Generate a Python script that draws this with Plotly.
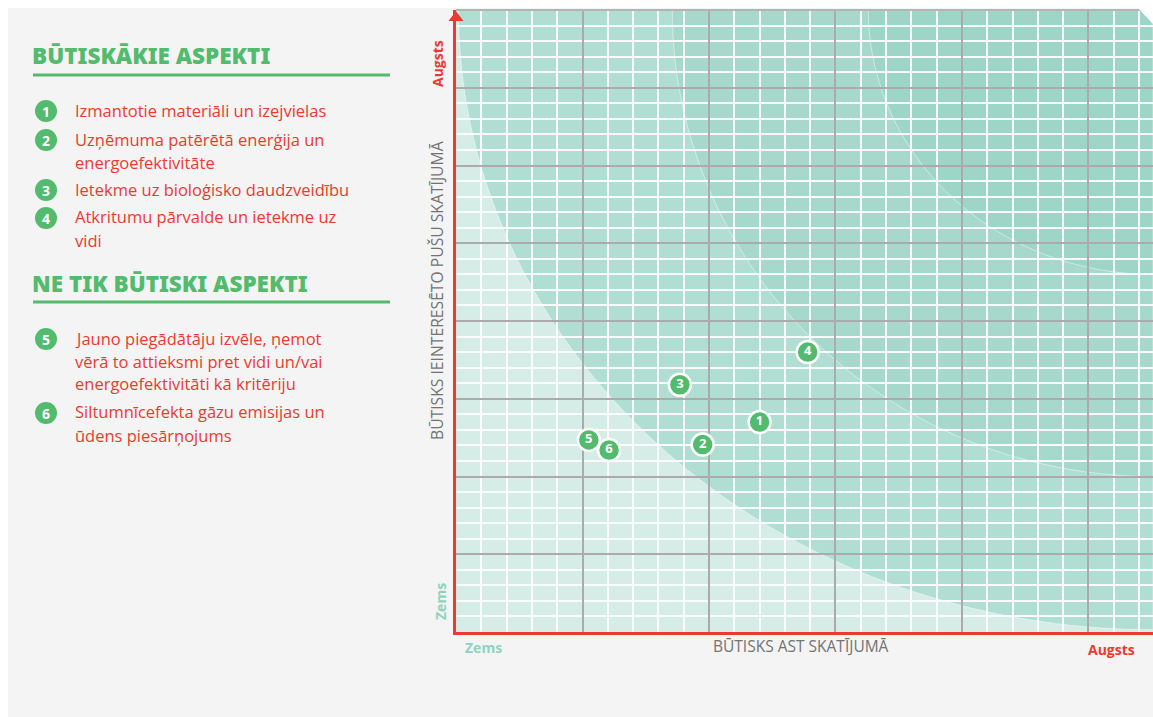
import numpy as np
import plotly.graph_objects as go

W, H = 1153, 717

# ---------------- data ----------------
aspect_ids = ["1", "2", "3", "4", "5", "6"]
business_impact = [2.40, 1.95, 1.77, 2.78, 1.05, 1.21]        # x: BŪTISKS AST SKATĪJUMĀ
stakeholder_impact = [2.70, 2.41, 3.18, 3.60, 2.47, 2.34]     # y: ieinteresēto pušu skatījumā

group_titles = ["BŪTISKĀKIE ASPEKTI", "NE TIK BŪTISKI ASPEKTI"]
legend_numbers = ["1", "2", "3", "4", "5", "6"]
legend_labels = [
    ["Izmantotie materiāli un izejvielas"],
    ["Uzņēmuma patērētā enerģija un", "energoefektivitāte"],
    ["Ietekme uz bioloģisko daudzveidību"],
    ["Atkritumu pārvalde un ietekme uz", "vidi"],
    ["Jauno piegādātāju izvēle, ņemot", "vērā to attieksmi pret vidi un/vai",
     "energoefektivitāti kā kritēriju"],
    ["Siltumnīcefekta gāzu emisijas un", "ūdens piesārņojums"],
]
x_title = "BŪTISKS AST SKATĪJUMĀ"
y_title = "BŪTISKS IEINTERESĒTO PUŠU SKATĪJUMĀ"
low_label, high_label = "Zems", "Augsts"

X_MAX, Y_MAX = 5.51, 8.0

# ---------------- style ----------------
RED = "#ec3a31"
GREEN = "#52bb6e"
TEAL_TXT = "#8fd3bf"
GREY_TXT = "#737373"
FONT = "Open Sans"
HEAD_FONT = "Noto Sans"
zone_colors = ["#b0ded2", "#a6d9cb", "#9dd5c6"]
zone_radii = [(5.49, 7.97), (3.80, 6.0), (2.25, 3.4)]


def px_x(p):
    return p / W


def px_y(p):
    return 1 - p / H


fig = go.Figure()

# points
fig.add_trace(go.Scatter(
    x=business_impact, y=stakeholder_impact, mode="markers+text",
    text=aspect_ids, textposition="middle center",
    textfont=dict(family=FONT, size=13, color="white", weight="bold"),
    marker=dict(size=22, color=GREEN, line=dict(color="white", width=2.5)),
    hoverinfo="skip", cliponaxis=False, showlegend=False,
))

# axis arrowheads
fig.add_trace(go.Scatter(
    x=[0, X_MAX + 0.03], y=[Y_MAX - 0.1, 0], mode="markers",
    marker=dict(symbol=["triangle-up", "triangle-right"], size=13, color=RED),
    hoverinfo="skip", cliponaxis=False, showlegend=False,
))

shapes = []
# background zones (quarter ellipses around the top-right corner)
t = np.linspace(0, np.pi / 2, 80)
for (a, b), col in zip(zone_radii, zone_colors):
    xs = X_MAX - a * np.cos(t)
    ys = Y_MAX - b * np.sin(t)
    path = f"M{X_MAX},{Y_MAX} " + " ".join(f"L{x:.4f},{y:.4f}" for x, y in zip(xs, ys)) + " Z"
    shapes.append(dict(type="path", xref="x", yref="y", path=path, fillcolor=col,
                       line=dict(color="rgba(255,255,255,0.45)", width=1), layer="below"))

# top border of plot
shapes.append(dict(type="line", xref="paper", yref="paper", x0=px_x(456), x1=1,
                   y0=px_y(10), y1=px_y(10), line=dict(color="#b4b4b4", width=2)))
# white outer strips (top and left)
shapes.append(dict(type="rect", xref="paper", yref="paper", x0=0, x1=1, y0=px_y(8), y1=1,
                   fillcolor="white", line=dict(width=0), layer="above"))
shapes.append(dict(type="rect", xref="paper", yref="paper", x0=0, x1=px_x(8), y0=0, y1=1,
                   fillcolor="white", line=dict(width=0), layer="above"))
# cut corner top-right
shapes.append(dict(type="path", xref="paper", yref="paper",
                   path=f"M{px_x(1137)},{px_y(7)} L1,{px_y(7)} L1,{px_y(24)} Z",
                   fillcolor="white", line=dict(width=0), layer="above"))

annotations = []
# left panel headings
heading_y = [56, 283]
underline_y = [75, 302]
for title, hy, uy in zip(group_titles, heading_y, underline_y):
    annotations.append(dict(x=px_x(30), y=px_y(hy), xref="paper", yref="paper", text=title,
                            showarrow=False, xanchor="left", yanchor="middle",
                            font=dict(family=HEAD_FONT, size=22.5, color=GREEN, weight=900)))
    shapes.append(dict(type="line", xref="paper", yref="paper", x0=px_x(33), x1=px_x(390),
                       y0=px_y(uy), y1=px_y(uy), line=dict(color=GREEN, width=3)))

# legend items
item_first_line_y = [110, 139, 189, 217, 338, 412]
line_gap = 23
for num, lines, y0 in zip(legend_numbers, legend_labels, item_first_line_y):
    cy = y0 + 1
    shapes.append(dict(type="circle", xref="paper", yref="paper",
                       xsizemode="pixel", ysizemode="pixel",
                       xanchor=px_x(46), yanchor=px_y(cy), x0=-11, x1=11, y0=-11, y1=11,
                       fillcolor=GREEN, line=dict(width=0)))
    annotations.append(dict(x=px_x(46), y=px_y(cy), xref="paper", yref="paper", text=num,
                            showarrow=False, xanchor="center", yanchor="middle",
                            font=dict(family=FONT, size=14, color="white", weight="bold")))
    for i, ln in enumerate(lines):
        annotations.append(dict(x=px_x(73), y=px_y(y0 + i * line_gap), xref="paper", yref="paper",
                                text=ln, showarrow=False, xanchor="left", yanchor="middle",
                                font=dict(family=FONT, size=16.5, color=RED)))

# axis labels
annotations += [
    dict(x=px_x(437), y=px_y(64), text=high_label, textangle=-90,
         font=dict(family=FONT, size=14, color=RED, weight="bold")),
    dict(x=px_x(440), y=px_y(602), text=low_label, textangle=-90,
         font=dict(family=FONT, size=14, color=TEAL_TXT, weight="bold")),
    dict(x=px_x(437), y=px_y(291), text=y_title, textangle=-90,
         font=dict(family=FONT, size=15.7, color=GREY_TXT)),
    dict(x=px_x(483), y=px_y(647), text=low_label,
         font=dict(family=FONT, size=14, color=TEAL_TXT, weight="bold")),
    dict(x=px_x(801), y=px_y(646), text=x_title,
         font=dict(family=FONT, size=15.5, color=GREY_TXT)),
    dict(x=px_x(1111), y=px_y(649), text=high_label,
         font=dict(family=FONT, size=14, color=RED, weight="bold")),
]
for a in annotations[-6:]:
    a.update(xref="paper", yref="paper", showarrow=False, xanchor="center", yanchor="middle")

axis_common = dict(
    showticklabels=False, ticks="", zeroline=False, fixedrange=True,
    showgrid=True, gridcolor="#ababab", gridwidth=1.5, dtick=1, tick0=0,
    minor=dict(dtick=0.2, tick0=0, showgrid=True, gridcolor="rgba(252,252,252,0.95)", gridwidth=2),
    showline=True, linecolor=RED, linewidth=3,
)

fig.update_layout(
    width=W, height=H, margin=dict(l=0, r=0, t=0, b=0),
    paper_bgcolor="#f4f4f4", plot_bgcolor="#d6ece6",
    xaxis=dict(domain=[px_x(456), 1], range=[0, X_MAX], **axis_common),
    yaxis=dict(domain=[px_y(632), px_y(10)], range=[0, Y_MAX], **axis_common),
    shapes=shapes, annotations=annotations, showlegend=False,
    font=dict(family=FONT),
)

fig.write_html(
    "out.html",
    config={"displayModeBar": False},
    post_script="document.body.style.margin='0';document.body.style.overflow='hidden';",
)
